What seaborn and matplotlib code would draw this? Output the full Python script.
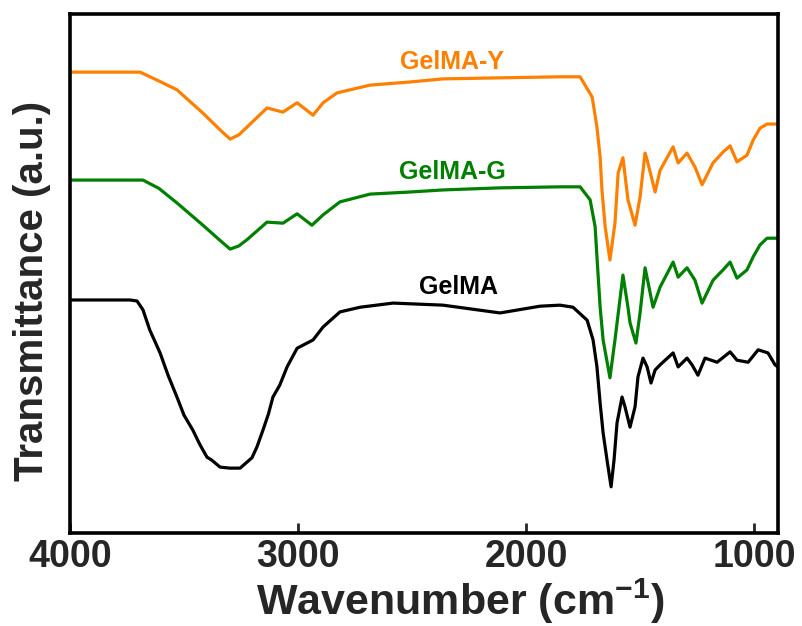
import numpy as np
import pandas as pd
import seaborn as sns
import matplotlib
matplotlib.use("Agg")
import matplotlib.pyplot as plt

# ---- data (transmittance in arbitrary units) ----
wn_y = [4000, 3693, 3620, 3531, 3417, 3340, 3298, 3260, 3224, 3136, 3066, 3004,
        2934, 2890, 2829, 2684, 2509, 2364, 2114, 1851, 1763, 1710, 1689, 1675,
        1667, 1653, 1632, 1610, 1596, 1575, 1553, 1522, 1500, 1478, 1469, 1434,
        1412, 1355, 1333, 1294, 1259, 1228, 1180, 1136, 1105, 1075, 1031, 1004,
        974, 943, 895]
t_y = [88.8, 88.8, 87.3, 85.4, 80.9, 77.6, 75.9, 76.7, 78.2, 81.9, 81.1, 82.9,
       80.5, 82.9, 84.8, 86.3, 86.9, 87.5, 87.7, 87.9, 87.9, 84.0, 78.2, 72.4,
       66.1, 59.0, 52.6, 59.7, 69.4, 72.3, 64.2, 59.3, 64.7, 73.2, 71.9, 65.7,
       69.9, 74.4, 71.3, 73.2, 70.5, 67.1, 71.3, 73.4, 74.6, 71.5, 72.8, 75.7,
       78.0, 78.8, 78.8]

wn_g = [4000, 3680, 3610, 3531, 3417, 3340, 3298, 3260, 3224, 3136, 3066, 3004,
        2939, 2890, 2816, 2684, 2509, 2364, 2114, 1851, 1763, 1719, 1697, 1689,
        1675, 1662, 1632, 1610, 1575, 1553, 1544, 1518, 1500, 1478, 1443, 1412,
        1355, 1333, 1294, 1259, 1228, 1180, 1136, 1105, 1075, 1031, 1004, 974,
        943, 895]
t_g = [68.0, 68.0, 66.4, 63.6, 59.3, 56.3, 54.7, 55.3, 56.5, 59.9, 59.7, 61.5,
       59.3, 61.3, 63.8, 65.3, 65.7, 66.1, 66.5, 66.7, 66.7, 64.2, 59.0, 53.2,
       43.5, 37.2, 29.9, 37.2, 49.7, 43.5, 40.5, 36.6, 42.4, 51.1, 43.5, 47.4,
       52.2, 49.3, 51.1, 48.7, 44.3, 48.7, 50.7, 52.2, 49.1, 50.7, 53.2, 55.5,
       56.8, 56.8]

wn_b = [4000, 3737, 3706, 3680, 3650, 3605, 3570, 3531, 3500, 3461, 3430, 3399,
        3380, 3342, 3300, 3254, 3202, 3180, 3154, 3130, 3110, 3080, 3048, 3004,
        2934, 2890, 2816, 2728, 2583, 2364, 2114, 1939, 1851, 1794, 1732, 1706,
        1689, 1675, 1662, 1645, 1627, 1614, 1601, 1579, 1566, 1544, 1522, 1509,
        1487, 1469, 1452, 1434, 1412, 1355, 1333, 1294, 1272, 1246, 1215, 1162,
        1105, 1075, 1026, 982, 939, 908, 895]
t_b = [44.9, 44.9, 44.7, 43.0, 39.1, 34.7, 30.4, 26.2, 22.7, 19.8, 17.0, 14.6,
       14.1, 12.7, 12.5, 12.5, 14.5, 16.6, 19.8, 22.9, 26.2, 28.5, 32.0, 35.6,
       37.2, 39.7, 42.6, 43.5, 44.3, 43.9, 42.4, 43.7, 43.9, 43.5, 41.0, 37.2,
       32.0, 25.0, 19.3, 14.1, 8.9, 14.1, 21.2, 26.2, 24.3, 20.4, 24.3, 30.1,
       33.7, 32.0, 28.9, 31.4, 32.4, 34.7, 32.0, 33.7, 32.4, 30.4, 33.7, 32.9,
       34.9, 33.3, 32.9, 35.3, 34.7, 32.4, 32.0]

names = ["GelMA-Y", "GelMA-G", "GelMA"]
colors = ["#FF8000", "#008000", "#000000"]
label_wn = [2325, 2325, 2298]
label_t = [90.8, 69.6, 47.4]
xticks = [4000, 3000, 2000, 1000]

df = pd.concat([
    pd.DataFrame({"wn": wn_y, "T": t_y, "sample": names[0]}),
    pd.DataFrame({"wn": wn_g, "T": t_g, "sample": names[1]}),
    pd.DataFrame({"wn": wn_b, "T": t_b, "sample": names[2]}),
], ignore_index=True)

sns.set_style("white")
plt.rcParams["font.family"] = ["Liberation Sans", "DejaVu Sans"]
plt.rcParams["mathtext.fontset"] = "custom"
plt.rcParams["mathtext.rm"] = "Liberation Sans:bold"
plt.rcParams["mathtext.bf"] = "Liberation Sans:bold"
plt.rcParams["mathtext.default"] = "bf"

fig = plt.figure(figsize=(8.03, 6.26), dpi=100)
ax = fig.add_axes([70 / 803, 1 - 533 / 626, 708 / 803, 519 / 626])

sns.lineplot(data=df, x="wn", y="T", hue="sample", hue_order=names,
             palette=dict(zip(names, colors)), sort=False, estimator=None,
             linewidth=2.3, legend=False, ax=ax)

for n, c, xw, yt in zip(names, colors, label_wn, label_t):
    ax.text(xw, yt, n, color=c, fontsize=18, fontweight="bold",
            ha="center", va="center")

ax.set_xlim(4000, 895)
ax.set_ylim(0, 100)
ax.set_xticks(xticks)
ax.set_xticklabels([str(v) for v in xticks])
ax.set_yticks([])
ax.tick_params(axis="x", direction="in", length=7, width=2, pad=4,
               labelsize=27, bottom=True)
for lab in ax.get_xticklabels():
    lab.set_fontweight("bold")
for s in ax.spines.values():
    s.set_linewidth(2.6)
    s.set_color("black")

ax.set_xlabel(r"Wavenumber (cm$^{-1}$)", fontsize=31, fontweight="bold",
              va="center")
ax.xaxis.set_label_coords(0.551, -0.132)
ax.set_ylabel("Transmittance (a.u.)", fontsize=29, fontweight="bold",
              va="center")
ax.yaxis.set_label_coords(-0.054, 0.466)

fig.savefig("out.png", dpi=100)
